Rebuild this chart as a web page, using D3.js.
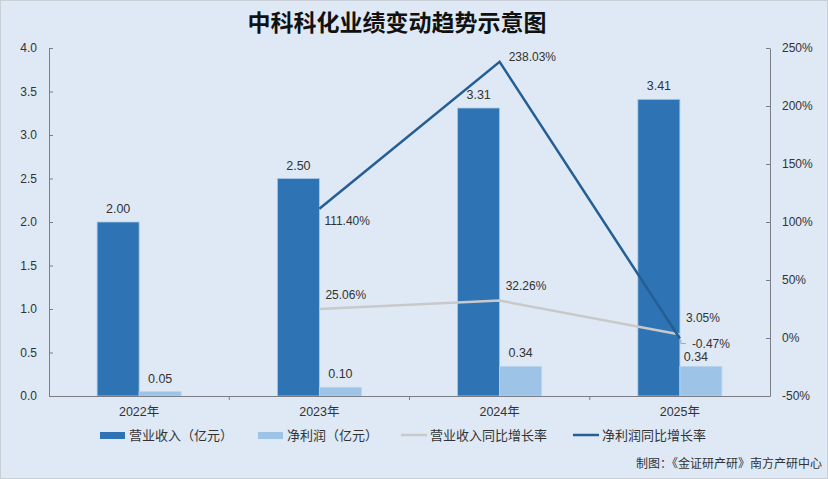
<!DOCTYPE html>
<html>
<head>
<meta charset="utf-8">
<script src="https://cdn.jsdelivr.net/npm/d3@7"></script>
<style>
  body { margin: 0; background: #fff; }
  text { font-family: "Liberation Sans", "Noto Sans CJK SC", sans-serif; }
</style>
</head>
<body>
<div class="chart"></div>
<script>
// data
let years = ["2022年", "2023年", "2024年", "2025年"];
let revenue = [2.00, 2.50, 3.31, 3.41];
let profit = [0.05, 0.10, 0.34, 0.34];
let revenueGrowth = [null, 25.06, 32.26, 3.05];
let profitGrowth = [null, 111.40, 238.03, -0.47];
let leftTicks = [0, 0.5, 1.0, 1.5, 2.0, 2.5, 3.0, 3.5, 4.0];
let rightTicks = [-50, 0, 50, 100, 150, 200, 250];

let svgWidth = 828;
let svgHeight = 479;
let margin = { top: 48, right: 58, bottom: 83, left: 49 };
let width = svgWidth - margin.left - margin.right;
let height = svgHeight - margin.top - margin.bottom;

let svg = d3.select(".chart").append("svg")
  .attr("width", svgWidth)
  .attr("height", svgHeight);

// background + frame
svg.append("rect")
  .attr("x", 0.5).attr("y", 0.5)
  .attr("width", svgWidth - 1).attr("height", svgHeight - 1)
  .attr("fill", "#dee9f5")
  .attr("stroke", "#c9cfd6");

svg.append("text")
  .attr("x", 397).attr("y", 31)
  .attr("text-anchor", "middle")
  .style("font-family", "'Noto Sans CJK SC', sans-serif")
  .style("font-size", "23px")
  .style("font-weight", "bold")
  .attr("fill", "#111")
  .text("中科科化业绩变动趋势示意图");

let chartGroup = svg.append("g")
  .attr("transform", `translate(${margin.left}, ${margin.top})`);

let xScale = d3.scaleBand().domain(years).range([0, width]);
let yLeft = d3.scaleLinear().domain([0, 4]).range([height, 0]);
let yRight = d3.scaleLinear().domain([-50, 250]).range([height, 0]);
let barW = 42;

let axisColor = "#7b7f85";
let textColor = "#333";

// left axis
let leftAxis = chartGroup.append("g")
  .call(d3.axisLeft(yLeft).tickValues(leftTicks).tickFormat(d3.format(".1f")).tickSizeInner(-4).tickSizeOuter(0).tickPadding(12));
// right axis
let rightAxis = chartGroup.append("g")
  .attr("transform", `translate(${width}, 0)`)
  .call(d3.axisRight(yRight).tickValues(rightTicks).tickFormat(d => d + "%").tickSizeInner(-4).tickSizeOuter(0).tickPadding(12));

[leftAxis, rightAxis].forEach(a => {
  a.select(".domain").attr("stroke", axisColor);
  a.selectAll(".tick line").attr("stroke", axisColor);
  a.selectAll(".tick text")
    .attr("fill", textColor)
    .style("font-size", "12px")
    .style("font-family", "'Liberation Sans', sans-serif");
});

// bars
chartGroup.selectAll(".rev")
  .data(revenue)
  .enter()
  .append("rect")
  .attr("x", (d, i) => xScale(years[i]) + xScale.bandwidth() / 2 - barW)
  .attr("y", d => yLeft(d))
  .attr("width", barW)
  .attr("height", d => height - yLeft(d))
  .attr("fill", "#2e74b5")
  .attr("stroke", "#a9c8e8")
  .attr("stroke-width", 0.8);

chartGroup.selectAll(".pro")
  .data(profit)
  .enter()
  .append("rect")
  .attr("x", (d, i) => xScale(years[i]) + xScale.bandwidth() / 2)
  .attr("y", d => yLeft(d))
  .attr("width", barW)
  .attr("height", d => height - yLeft(d))
  .attr("fill", "#9dc3e6")
  .attr("stroke", "#b8d4ee")
  .attr("stroke-width", 0.8);

// bar labels
let labelStyle = sel => sel
  .attr("text-anchor", "middle")
  .attr("fill", textColor)
  .style("font-size", "12.5px");

chartGroup.selectAll(".revLabel")
  .data(revenue)
  .enter()
  .append("text")
  .attr("x", (d, i) => xScale(years[i]) + xScale.bandwidth() / 2 - barW / 2)
  .attr("y", d => yLeft(d) - 9)
  .text(d => d.toFixed(2))
  .call(labelStyle);

chartGroup.selectAll(".proLabel")
  .data(profit)
  .enter()
  .append("text")
  .attr("x", (d, i) => xScale(years[i]) + xScale.bandwidth() / 2 + barW / 2 + (i === 3 ? -5 : 0))
  .attr("y", (d, i) => yLeft(d) - (i === 3 ? 5 : 9))
  .text(d => d.toFixed(2))
  .call(labelStyle);

// x axis
let xAxis = chartGroup.append("g")
  .attr("transform", `translate(0, ${height})`)
  .call(d3.axisBottom(xScale).tickSize(0).tickSizeOuter(0).tickPadding(11));
xAxis.select(".domain").attr("stroke", axisColor);
xAxis.selectAll(".tick text")
  .attr("fill", textColor)
  .style("font-size", "12.5px");
// category separators
chartGroup.selectAll(".sep")
  .data(years.slice(1))
  .enter()
  .append("line")
  .attr("x1", d => xScale(d)).attr("x2", d => xScale(d))
  .attr("y1", height).attr("y2", height + 4)
  .attr("stroke", axisColor);

// lines
let cx = i => xScale(years[i]) + xScale.bandwidth() / 2;
let line = d3.line()
  .defined(d => d.v !== null)
  .x(d => cx(d.i))
  .y(d => yRight(d.v));

chartGroup.append("path")
  .datum(revenueGrowth.map((v, i) => ({ v, i })))
  .attr("d", line)
  .attr("fill", "none")
  .attr("stroke", "#c9c9c9")
  .attr("stroke-width", 2.5);

chartGroup.append("path")
  .datum(profitGrowth.map((v, i) => ({ v, i })))
  .attr("d", line)
  .attr("fill", "none")
  .attr("stroke", "#245e94")
  .attr("stroke-width", 2.5);

// line labels
let rgOffsets = [null, [6, -10], [6, -11], [6, -12]];
let pgOffsets = [null, [5, 16], [9, -1], [12, 9]];

chartGroup.selectAll(".rgLabel")
  .data(revenueGrowth.map((v, i) => ({ v, i })).filter(d => d.v !== null))
  .enter()
  .append("text")
  .attr("x", d => cx(d.i) + rgOffsets[d.i][0])
  .attr("y", d => yRight(d.v) + rgOffsets[d.i][1])
  .attr("fill", textColor)
  .style("font-size", "12px")
  .text(d => d.v.toFixed(2) + "%");

chartGroup.selectAll(".pgLabel")
  .data(profitGrowth.map((v, i) => ({ v, i })).filter(d => d.v !== null))
  .enter()
  .append("text")
  .attr("x", d => cx(d.i) + pgOffsets[d.i][0])
  .attr("y", d => yRight(d.v) + pgOffsets[d.i][1])
  .attr("fill", textColor)
  .style("font-size", "12px")
  .text(d => d.v.toFixed(2) + "%");

// small leader for -0.47%
chartGroup.append("path")
  .attr("d", `M${cx(3) + 1},${yRight(profitGrowth[3]) + 1}v4h5`)
  .attr("fill", "none")
  .attr("stroke", "#999")
  .attr("stroke-width", 0.8);

// legend
let legendItems = [
  { name: "营业收入（亿元）", type: "rect", color: "#2e74b5", x: 100 },
  { name: "净利润（亿元）", type: "rect", color: "#9dc3e6", x: 258 },
  { name: "营业收入同比增长率", type: "line", color: "#c9c9c9", x: 401 },
  { name: "净利润同比增长率", type: "line", color: "#245e94", x: 573 }
];
let legend = svg.append("g").attr("transform", "translate(0, 435)");
legendItems.forEach(item => {
  if (item.type === "rect") {
    legend.append("rect")
      .attr("x", item.x).attr("y", -3)
      .attr("width", 25).attr("height", 7)
      .attr("fill", item.color);
  } else {
    legend.append("line")
      .attr("x1", item.x).attr("x2", item.x + 26)
      .attr("y1", 0).attr("y2", 0)
      .attr("stroke", item.color)
      .attr("stroke-width", 2.5);
  }
  legend.append("text")
    .attr("x", item.x + 29).attr("y", 5)
    .attr("fill", textColor)
    .style("font-size", "13px")
    .style("font-family", "'Noto Sans CJK SC', sans-serif")
    .text(item.name);
});

// source
svg.append("text")
  .attr("x", 822).attr("y", 468)
  .attr("text-anchor", "end")
  .attr("fill", textColor)
  .style("font-size", "12px")
  .style("font-family", "'Noto Sans CJK SC', sans-serif")
  .text("制图：《金证研产研》南方产研中心");
</script>
</body>
</html>
